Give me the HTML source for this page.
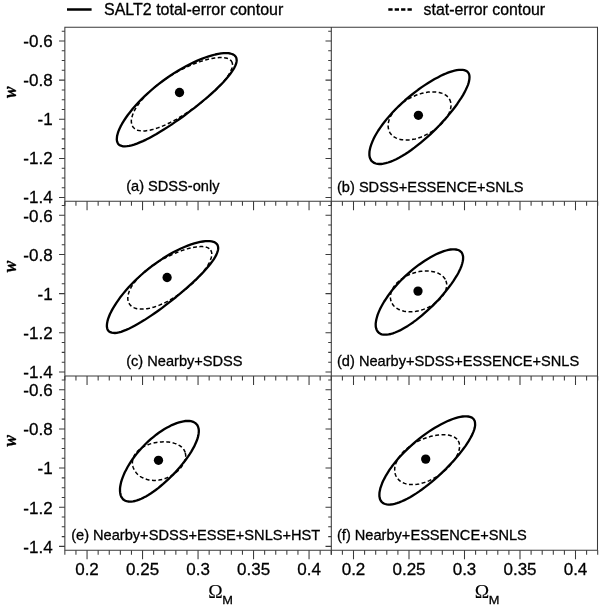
<!DOCTYPE html>
<html><head><meta charset="utf-8"><title>SALT2 contours</title>
<style>html,body{margin:0;padding:0;background:#fff}svg{display:block}text{font-family:"Liberation Sans",sans-serif;fill:#000;stroke:#000;stroke-width:0.3px}</style></head>
<body>
<svg width="600" height="607" viewBox="0 0 600 607">
<rect width="600" height="607" fill="#fff"/>
<path d="M64.85 27.25H597.5V550.2H64.85Z M331.3 27.25V554.7 M64.85 201.3H597.5 M64.85 375.95H597.5" fill="none" stroke="#3a3a3a" stroke-width="1.05"/>
<path d="M64.85 201.3v4.5 M64.85 375.95v4.5 M64.85 550.2v4.5 M75.95 201.3v4.5 M75.95 375.95v4.5 M75.95 550.2v4.5 M87.05 201.3v9 M87.05 375.95v9 M87.05 550.2v9 M98.15 201.3v4.5 M98.15 375.95v4.5 M98.15 550.2v4.5 M109.25 201.3v4.5 M109.25 375.95v4.5 M109.25 550.2v4.5 M120.35 201.3v4.5 M120.35 375.95v4.5 M120.35 550.2v4.5 M131.45 201.3v4.5 M131.45 375.95v4.5 M131.45 550.2v4.5 M142.55 201.3v9 M142.55 375.95v9 M142.55 550.2v9 M153.65 201.3v4.5 M153.65 375.95v4.5 M153.65 550.2v4.5 M164.75 201.3v4.5 M164.75 375.95v4.5 M164.75 550.2v4.5 M175.85 201.3v4.5 M175.85 375.95v4.5 M175.85 550.2v4.5 M186.95 201.3v4.5 M186.95 375.95v4.5 M186.95 550.2v4.5 M198.05 201.3v9 M198.05 375.95v9 M198.05 550.2v9 M209.15 201.3v4.5 M209.15 375.95v4.5 M209.15 550.2v4.5 M220.25 201.3v4.5 M220.25 375.95v4.5 M220.25 550.2v4.5 M231.35 201.3v4.5 M231.35 375.95v4.5 M231.35 550.2v4.5 M242.45 201.3v4.5 M242.45 375.95v4.5 M242.45 550.2v4.5 M253.55 201.3v9 M253.55 375.95v9 M253.55 550.2v9 M264.65 201.3v4.5 M264.65 375.95v4.5 M264.65 550.2v4.5 M275.75 201.3v4.5 M275.75 375.95v4.5 M275.75 550.2v4.5 M286.85 201.3v4.5 M286.85 375.95v4.5 M286.85 550.2v4.5 M297.95 201.3v4.5 M297.95 375.95v4.5 M297.95 550.2v4.5 M309.05 201.3v9 M309.05 375.95v9 M309.05 550.2v9 M320.15 201.3v4.5 M320.15 375.95v4.5 M320.15 550.2v4.5 M331.25 201.3v4.5 M331.25 375.95v4.5 M331.25 550.2v4.5 M331.30 201.3v4.5 M331.30 375.95v4.5 M331.30 550.2v4.5 M342.40 201.3v4.5 M342.40 375.95v4.5 M342.40 550.2v4.5 M353.50 201.3v9 M353.50 375.95v9 M353.50 550.2v9 M364.60 201.3v4.5 M364.60 375.95v4.5 M364.60 550.2v4.5 M375.70 201.3v4.5 M375.70 375.95v4.5 M375.70 550.2v4.5 M386.80 201.3v4.5 M386.80 375.95v4.5 M386.80 550.2v4.5 M397.90 201.3v4.5 M397.90 375.95v4.5 M397.90 550.2v4.5 M409.00 201.3v9 M409.00 375.95v9 M409.00 550.2v9 M420.10 201.3v4.5 M420.10 375.95v4.5 M420.10 550.2v4.5 M431.20 201.3v4.5 M431.20 375.95v4.5 M431.20 550.2v4.5 M442.30 201.3v4.5 M442.30 375.95v4.5 M442.30 550.2v4.5 M453.40 201.3v4.5 M453.40 375.95v4.5 M453.40 550.2v4.5 M464.50 201.3v9 M464.50 375.95v9 M464.50 550.2v9 M475.60 201.3v4.5 M475.60 375.95v4.5 M475.60 550.2v4.5 M486.70 201.3v4.5 M486.70 375.95v4.5 M486.70 550.2v4.5 M497.80 201.3v4.5 M497.80 375.95v4.5 M497.80 550.2v4.5 M508.90 201.3v4.5 M508.90 375.95v4.5 M508.90 550.2v4.5 M520.00 201.3v9 M520.00 375.95v9 M520.00 550.2v9 M531.10 201.3v4.5 M531.10 375.95v4.5 M531.10 550.2v4.5 M542.20 201.3v4.5 M542.20 375.95v4.5 M542.20 550.2v4.5 M553.30 201.3v4.5 M553.30 375.95v4.5 M553.30 550.2v4.5 M564.40 201.3v4.5 M564.40 375.95v4.5 M564.40 550.2v4.5 M575.50 201.3v9 M575.50 375.95v9 M575.50 550.2v9 M586.60 201.3v4.5 M586.60 375.95v4.5 M586.60 550.2v4.5 M597.70 201.3v4.5 M597.70 375.95v4.5 M597.70 550.2v4.5 M64.85 31.16h-3.1 M331.3 31.16h-3.1 M64.85 40.95h-5.8 M331.3 40.95h-5.8 M64.85 50.74h-3.1 M331.3 50.74h-3.1 M64.85 60.53h-3.1 M331.3 60.53h-3.1 M64.85 70.32h-3.1 M331.3 70.32h-3.1 M64.85 80.11h-5.8 M331.3 80.11h-5.8 M64.85 89.90h-3.1 M331.3 89.90h-3.1 M64.85 99.69h-3.1 M331.3 99.69h-3.1 M64.85 109.48h-3.1 M331.3 109.48h-3.1 M64.85 119.27h-5.8 M331.3 119.27h-5.8 M64.85 129.06h-3.1 M331.3 129.06h-3.1 M64.85 138.85h-3.1 M331.3 138.85h-3.1 M64.85 148.64h-3.1 M331.3 148.64h-3.1 M64.85 158.43h-5.8 M331.3 158.43h-5.8 M64.85 168.22h-3.1 M331.3 168.22h-3.1 M64.85 178.01h-3.1 M331.3 178.01h-3.1 M64.85 187.80h-3.1 M331.3 187.80h-3.1 M64.85 197.59h-5.8 M331.3 197.59h-5.8 M64.85 205.51h-3.1 M331.3 205.51h-3.1 M64.85 215.30h-5.8 M331.3 215.30h-5.8 M64.85 225.09h-3.1 M331.3 225.09h-3.1 M64.85 234.88h-3.1 M331.3 234.88h-3.1 M64.85 244.67h-3.1 M331.3 244.67h-3.1 M64.85 254.46h-5.8 M331.3 254.46h-5.8 M64.85 264.25h-3.1 M331.3 264.25h-3.1 M64.85 274.04h-3.1 M331.3 274.04h-3.1 M64.85 283.83h-3.1 M331.3 283.83h-3.1 M64.85 293.62h-5.8 M331.3 293.62h-5.8 M64.85 303.41h-3.1 M331.3 303.41h-3.1 M64.85 313.20h-3.1 M331.3 313.20h-3.1 M64.85 322.99h-3.1 M331.3 322.99h-3.1 M64.85 332.78h-5.8 M331.3 332.78h-5.8 M64.85 342.57h-3.1 M331.3 342.57h-3.1 M64.85 352.36h-3.1 M331.3 352.36h-3.1 M64.85 362.15h-3.1 M331.3 362.15h-3.1 M64.85 371.94h-5.8 M331.3 371.94h-5.8 M64.85 379.96h-3.1 M331.3 379.96h-3.1 M64.85 389.75h-5.8 M331.3 389.75h-5.8 M64.85 399.54h-3.1 M331.3 399.54h-3.1 M64.85 409.33h-3.1 M331.3 409.33h-3.1 M64.85 419.12h-3.1 M331.3 419.12h-3.1 M64.85 428.91h-5.8 M331.3 428.91h-5.8 M64.85 438.70h-3.1 M331.3 438.70h-3.1 M64.85 448.49h-3.1 M331.3 448.49h-3.1 M64.85 458.28h-3.1 M331.3 458.28h-3.1 M64.85 468.07h-5.8 M331.3 468.07h-5.8 M64.85 477.86h-3.1 M331.3 477.86h-3.1 M64.85 487.65h-3.1 M331.3 487.65h-3.1 M64.85 497.44h-3.1 M331.3 497.44h-3.1 M64.85 507.23h-5.8 M331.3 507.23h-5.8 M64.85 517.02h-3.1 M331.3 517.02h-3.1 M64.85 526.81h-3.1 M331.3 526.81h-3.1 M64.85 536.60h-3.1 M331.3 536.60h-3.1 M64.85 546.39h-5.8 M331.3 546.39h-5.8" fill="none" stroke="#3a3a3a" stroke-width="1.05"/>
<text x="52.6" y="46.7" font-size="17" text-anchor="end">-0.6</text>
<text x="52.6" y="85.9" font-size="17" text-anchor="end">-0.8</text>
<text x="52.6" y="125.0" font-size="17" text-anchor="end">-1</text>
<text x="52.6" y="164.2" font-size="17" text-anchor="end">-1.2</text>
<text x="52.6" y="203.4" font-size="17" text-anchor="end">-1.4</text>
<text x="52.6" y="221.6" font-size="17" text-anchor="end">-0.6</text>
<text x="52.6" y="260.8" font-size="17" text-anchor="end">-0.8</text>
<text x="52.6" y="299.9" font-size="17" text-anchor="end">-1</text>
<text x="52.6" y="339.1" font-size="17" text-anchor="end">-1.2</text>
<text x="52.6" y="378.3" font-size="17" text-anchor="end">-1.4</text>
<text x="52.6" y="396.0" font-size="17" text-anchor="end">-0.6</text>
<text x="52.6" y="435.2" font-size="17" text-anchor="end">-0.8</text>
<text x="52.6" y="474.3" font-size="17" text-anchor="end">-1</text>
<text x="52.6" y="513.5" font-size="17" text-anchor="end">-1.2</text>
<text x="52.6" y="552.7" font-size="17" text-anchor="end">-1.4</text>
<text x="87.0" y="575.3" font-size="17" text-anchor="middle">0.2</text>
<text x="142.6" y="575.3" font-size="17" text-anchor="middle">0.25</text>
<text x="198.1" y="575.3" font-size="17" text-anchor="middle">0.3</text>
<text x="253.6" y="575.3" font-size="17" text-anchor="middle">0.35</text>
<text x="309.1" y="575.3" font-size="17" text-anchor="middle">0.4</text>
<text x="353.5" y="575.3" font-size="17" text-anchor="middle">0.2</text>
<text x="409.0" y="575.3" font-size="17" text-anchor="middle">0.25</text>
<text x="464.5" y="575.3" font-size="17" text-anchor="middle">0.3</text>
<text x="520.0" y="575.3" font-size="17" text-anchor="middle">0.35</text>
<text x="575.5" y="575.3" font-size="17" text-anchor="middle">0.4</text>
<text transform="translate(208.3 598.3) scale(1.075 1)" font-size="18.1" style="font-family:'Liberation Serif',serif;stroke-width:0.1px">Ω</text>
<text transform="translate(222.2 604.3) scale(1.085 1)" font-size="11.8">M</text>
<text transform="translate(474.8 598.3) scale(1.075 1)" font-size="18.1" style="font-family:'Liberation Serif',serif;stroke-width:0.1px">Ω</text>
<text transform="translate(488.7 604.3) scale(1.085 1)" font-size="11.8">M</text>
<text transform="translate(16.1 92.25) rotate(-90) scale(0.88 1)" font-size="19.5" font-style="italic" font-weight="bold" text-anchor="middle" style="font-family:'Liberation Serif',serif;stroke-width:0.35px">w</text>
<text transform="translate(16.1 266.55) rotate(-90) scale(0.88 1)" font-size="19.5" font-style="italic" font-weight="bold" text-anchor="middle" style="font-family:'Liberation Serif',serif;stroke-width:0.35px">w</text>
<text transform="translate(16.1 440.85) rotate(-90) scale(0.88 1)" font-size="19.5" font-style="italic" font-weight="bold" text-anchor="middle" style="font-family:'Liberation Serif',serif;stroke-width:0.35px">w</text>
<path d="M67 9.5H91.6" stroke="#000" stroke-width="2.5" fill="none"/>
<path d="M388.3 9.5H412.2" stroke="#000" stroke-width="2.4" stroke-dasharray="4.3 2.1" fill="none"/>
<text x="104" y="15.2" font-size="16">SALT2 total-error contour</text>
<text x="423.6" y="15.2" font-size="15.85">stat-error contour</text>
<text x="126.2" y="191.2" font-size="14.6">(a) SDSS-only</text>
<text x="337.0" y="191.5" font-size="14.6">(b) SDSS+ESSENCE+SNLS</text>
<text x="126.2" y="365.5" font-size="14.6">(c) Nearby+SDSS</text>
<text x="337.0" y="365.7" font-size="14.6">(d) Nearby+SDSS+ESSENCE+SNLS</text>
<text x="71.2" y="540.4" font-size="14.6">(e) Nearby+SDSS+ESSE+SNLS+HST</text>
<text x="337.0" y="540.4" font-size="14.6">(f) Nearby+ESSENCE+SNLS</text>
<path d="M231.5 61.2L232.0 62.3L232.4 63.5L232.5 64.8L232.4 66.2L232.1 67.7L231.5 69.4L230.7 71.1L229.8 73.0L228.6 74.9L227.2 76.9L225.7 79.0L223.9 81.2L222.0 83.4L219.9 85.7L217.7 88.0L215.3 90.4L212.8 92.7L210.1 95.1L207.4 97.5L204.5 99.9L201.5 102.3L198.5 104.6L195.4 106.9L192.2 109.2L189.1 111.4L185.8 113.5L182.6 115.6L179.4 117.5L176.2 119.4L173.0 121.1L169.8 122.8L166.7 124.3L163.7 125.6L160.7 126.9L157.8 127.9L155.0 128.9L152.4 129.6L149.8 130.2L147.4 130.6L145.1 130.9L142.9 131.0L141.0 130.9L139.1 130.6L137.5 130.2L136.0 129.5L134.8 128.8L133.7 127.8L132.8 126.7L132.1 125.5L131.7 124.1L131.4 122.5L131.3 120.9L131.5 119.1L131.9 117.2L132.5 115.2L133.3 113.1L134.3 110.9L135.5 108.7L136.9 106.4L138.6 104.0L140.4 101.6L142.4 99.2L144.5 96.8L146.9 94.3L149.3 91.9L152.0 89.5L154.7 87.1L157.6 84.8L160.7 82.5L163.8 80.2L166.9 78.1L170.2 76.0L173.5 74.0L176.9 72.0L180.2 70.2L183.6 68.5L187.0 66.9L190.4 65.4L193.7 64.0L197.0 62.7L200.2 61.6L203.3 60.6L206.3 59.8L209.2 59.0L212.0 58.5L214.7 58.0L217.2 57.7L219.5 57.5L221.7 57.5L223.7 57.6L225.5 57.9L227.1 58.3L228.5 58.8L229.7 59.5L230.7 60.3Z" fill="none" stroke="#000" stroke-width="1.5" stroke-dasharray="3.9 2.5" stroke-linejoin="round"/>
<path d="M235.5 56.4L236.2 57.5L236.5 58.8L236.7 60.3L236.5 61.9L236.1 63.7L235.4 65.5L234.4 67.6L233.2 69.7L231.7 71.9L230.0 74.3L228.0 76.8L225.9 79.3L223.5 82.0L220.9 84.7L218.1 87.4L215.1 90.3L212.0 93.1L208.7 96.1L205.3 99.0L201.8 101.9L198.2 104.9L194.5 107.8L190.7 110.7L186.9 113.6L183.1 116.5L179.2 119.2L175.3 121.9L171.5 124.6L167.6 127.1L163.8 129.5L160.1 131.8L156.5 134.0L152.9 136.0L149.4 137.9L146.1 139.6L142.9 141.1L139.8 142.4L136.9 143.6L134.1 144.6L131.6 145.3L129.2 145.9L127.0 146.2L124.9 146.4L123.1 146.3L121.6 145.9L120.2 145.4L119.0 144.7L118.1 143.7L117.5 142.5L117.0 141.1L116.8 139.6L116.9 137.8L117.1 135.9L117.7 133.7L118.4 131.4L119.4 129.0L120.6 126.4L122.1 123.7L123.8 120.9L125.7 118.0L127.8 115.0L130.2 112.0L132.7 108.8L135.4 105.7L138.3 102.5L141.4 99.4L144.7 96.2L148.0 93.1L151.5 90.0L155.1 86.9L158.9 83.9L162.7 81.0L166.5 78.2L170.5 75.5L174.4 72.9L178.4 70.5L182.4 68.2L186.4 66.0L190.3 64.0L194.2 62.1L198.0 60.4L201.7 58.9L205.3 57.5L208.7 56.3L212.1 55.3L215.3 54.5L218.3 53.9L221.1 53.4L223.7 53.2L226.1 53.1L228.3 53.2L230.2 53.5L231.9 54.0L233.4 54.6L234.6 55.4Z" fill="none" stroke="#000" stroke-width="2.3" stroke-linejoin="round"/>
<circle cx="179.5" cy="92.5" r="4.65" fill="#000"/>
<path d="M449.5 99.2L450.1 100.4L450.5 101.6L450.8 102.9L450.9 104.2L451.0 105.6L450.9 107.0L450.6 108.5L450.2 110.0L449.7 111.5L449.1 113.1L448.3 114.6L447.5 116.2L446.5 117.7L445.3 119.3L444.1 120.9L442.8 122.4L441.4 123.9L439.9 125.4L438.3 126.8L436.6 128.2L434.9 129.5L433.0 130.8L431.2 132.0L429.3 133.2L427.3 134.2L425.3 135.2L423.3 136.2L421.3 137.0L419.2 137.7L417.2 138.4L415.2 138.9L413.1 139.3L411.2 139.7L409.2 139.9L407.3 140.0L405.5 140.0L403.7 139.9L401.9 139.8L400.3 139.4L398.7 139.0L397.2 138.5L395.8 137.9L394.5 137.2L393.3 136.4L392.3 135.5L391.3 134.5L390.5 133.5L389.7 132.3L389.2 131.1L388.7 129.8L388.4 128.5L388.2 127.1L388.1 125.6L388.2 124.2L388.4 122.6L388.8 121.1L389.2 119.5L389.9 117.9L390.6 116.3L391.5 114.8L392.5 113.2L393.6 111.6L394.8 110.1L396.1 108.5L397.5 107.1L399.1 105.6L400.7 104.2L402.4 102.9L404.2 101.6L406.0 100.3L407.9 99.2L409.9 98.1L411.9 97.1L413.9 96.2L415.9 95.3L418.0 94.6L420.1 93.9L422.1 93.3L424.2 92.8L426.2 92.4L428.2 92.1L430.2 91.9L432.1 91.9L434.0 91.9L435.8 92.0L437.5 92.2L439.2 92.5L440.8 92.9L442.2 93.4L443.6 93.9L444.9 94.6L446.1 95.4L447.1 96.2L448.0 97.2L448.8 98.2Z" fill="none" stroke="#000" stroke-width="1.5" stroke-dasharray="3.9 2.5" stroke-linejoin="round"/>
<path d="M467.8 72.1L468.5 73.1L469.1 74.3L469.4 75.7L469.5 77.2L469.4 79.0L469.1 80.9L468.6 82.9L467.9 85.1L466.9 87.4L465.8 89.8L464.5 92.4L463.0 95.1L461.3 97.9L459.4 100.7L457.4 103.7L455.2 106.7L452.9 109.7L450.4 112.8L447.9 115.9L445.2 119.0L442.3 122.1L439.5 125.2L436.5 128.3L433.4 131.3L430.3 134.3L427.2 137.2L424.0 139.9L420.8 142.6L417.6 145.2L414.4 147.7L411.3 150.0L408.1 152.2L405.0 154.2L402.0 156.0L399.0 157.7L396.2 159.2L393.4 160.5L390.7 161.6L388.1 162.5L385.7 163.2L383.4 163.7L381.2 164.0L379.2 164.0L377.4 163.9L375.7 163.5L374.2 162.9L372.9 162.1L371.8 161.2L370.9 160.0L370.2 158.6L369.7 157.1L369.4 155.3L369.4 153.4L369.5 151.4L369.9 149.2L370.5 146.8L371.3 144.4L372.3 141.8L373.5 139.1L374.9 136.3L376.5 133.5L378.3 130.5L380.3 127.6L382.5 124.5L384.8 121.5L387.3 118.4L389.9 115.4L392.7 112.3L395.6 109.3L398.6 106.3L401.7 103.4L404.8 100.5L408.1 97.7L411.4 95.0L414.7 92.4L418.1 89.8L421.4 87.4L424.8 85.1L428.1 83.0L431.4 81.0L434.6 79.1L437.8 77.4L440.8 75.8L443.8 74.4L446.7 73.2L449.4 72.2L452.0 71.3L454.5 70.7L456.8 70.2L458.9 69.9L460.9 69.8L462.7 69.8L464.2 70.1L465.6 70.6L466.8 71.2Z" fill="none" stroke="#000" stroke-width="2.3" stroke-linejoin="round"/>
<circle cx="418.4" cy="115.3" r="4.65" fill="#000"/>
<path d="M210.7 250.2L211.2 251.2L211.6 252.3L211.8 253.5L211.8 254.8L211.6 256.2L211.2 257.7L210.7 259.3L210.0 261.0L209.2 262.8L208.2 264.6L207.0 266.5L205.7 268.5L204.2 270.5L202.6 272.6L200.9 274.6L199.0 276.7L197.1 278.8L195.0 281.0L192.8 283.1L190.5 285.1L188.1 287.2L185.7 289.2L183.2 291.2L180.6 293.1L178.0 294.9L175.4 296.7L172.7 298.3L170.1 299.9L167.4 301.4L164.7 302.8L162.0 304.0L159.4 305.1L156.8 306.1L154.3 307.0L151.8 307.7L149.4 308.3L147.1 308.7L144.8 309.0L142.7 309.1L140.7 309.1L138.8 309.0L137.0 308.7L135.3 308.2L133.8 307.6L132.5 306.9L131.3 306.1L130.3 305.1L129.4 304.0L128.8 302.8L128.3 301.5L127.9 300.0L127.8 298.5L127.8 296.9L128.1 295.2L128.5 293.5L129.1 291.7L129.9 289.8L130.8 287.9L132.0 285.9L133.3 284.0L134.8 282.0L136.4 280.0L138.2 278.0L140.1 276.0L142.2 274.0L144.3 272.0L146.6 270.1L149.1 268.2L151.6 266.4L154.1 264.6L156.8 262.8L159.5 261.1L162.3 259.5L165.0 258.0L167.8 256.5L170.7 255.2L173.5 253.9L176.3 252.7L179.0 251.6L181.7 250.6L184.4 249.7L187.0 248.9L189.5 248.2L191.9 247.7L194.2 247.2L196.4 246.9L198.5 246.7L200.5 246.6L202.3 246.6L204.0 246.7L205.5 247.0L206.9 247.4L208.1 247.9L209.1 248.6L210.0 249.3Z" fill="none" stroke="#000" stroke-width="1.5" stroke-dasharray="3.9 2.5" stroke-linejoin="round"/>
<path d="M216.9 244.1L217.6 245.2L218.0 246.5L218.2 247.9L218.1 249.4L217.7 251.1L217.1 252.9L216.3 254.9L215.2 256.9L213.9 259.1L212.3 261.4L210.5 263.8L208.5 266.3L206.3 268.8L203.9 271.5L201.4 274.2L198.6 276.9L195.8 279.7L192.7 282.6L189.6 285.4L186.3 288.3L183.0 291.2L179.5 294.1L176.1 297.0L172.5 299.8L168.9 302.6L165.3 305.4L161.8 308.1L158.2 310.7L154.6 313.2L151.1 315.6L147.7 317.9L144.3 320.1L141.0 322.1L137.7 324.0L134.6 325.7L131.7 327.3L128.8 328.7L126.1 329.9L123.5 330.9L121.1 331.8L118.8 332.4L116.8 332.8L114.9 333.0L113.2 332.9L111.7 332.7L110.3 332.2L109.2 331.6L108.3 330.7L107.6 329.6L107.2 328.3L106.9 326.8L106.9 325.1L107.1 323.2L107.5 321.1L108.1 318.9L109.0 316.5L110.0 314.0L111.3 311.4L112.8 308.6L114.5 305.8L116.4 302.8L118.5 299.8L120.7 296.7L123.2 293.6L125.8 290.5L128.6 287.3L131.5 284.2L134.6 281.1L137.8 278.0L141.1 275.0L144.5 272.0L148.1 269.1L151.6 266.3L155.3 263.7L158.9 261.1L162.7 258.6L166.4 256.3L170.1 254.1L173.7 252.1L177.4 250.2L180.9 248.5L184.4 247.0L187.8 245.6L191.1 244.4L194.3 243.4L197.3 242.6L200.2 241.9L202.9 241.5L205.4 241.2L207.7 241.1L209.8 241.2L211.7 241.4L213.4 241.8L214.8 242.4L216.0 243.2Z" fill="none" stroke="#000" stroke-width="2.3" stroke-linejoin="round"/>
<circle cx="167.1" cy="277.5" r="4.65" fill="#000"/>
<path d="M445.9 280.8L446.3 282.0L446.6 283.2L446.7 284.4L446.7 285.6L446.6 286.9L446.3 288.2L446.0 289.5L445.5 290.8L444.9 292.1L444.3 293.4L443.5 294.7L442.5 296.0L441.5 297.3L440.4 298.6L439.2 299.8L437.9 301.0L436.6 302.1L435.1 303.2L433.6 304.3L432.0 305.3L430.4 306.2L428.7 307.1L427.0 307.9L425.2 308.7L423.4 309.4L421.6 310.0L419.8 310.5L418.0 310.9L416.1 311.3L414.3 311.5L412.5 311.7L410.7 311.8L409.0 311.8L407.3 311.7L405.6 311.5L404.0 311.2L402.5 310.8L401.0 310.4L399.6 309.8L398.3 309.2L397.1 308.5L395.9 307.7L394.9 306.9L393.9 306.0L393.1 305.0L392.4 303.9L391.7 302.8L391.2 301.7L390.8 300.5L390.6 299.2L390.4 298.0L390.4 296.7L390.5 295.3L390.7 294.0L391.0 292.7L391.5 291.3L392.0 289.9L392.7 288.6L393.5 287.3L394.4 286.0L395.4 284.7L396.5 283.4L397.7 282.2L399.0 281.0L400.4 279.9L401.8 278.8L403.4 277.8L405.0 276.8L406.6 275.9L408.3 275.1L410.1 274.3L411.9 273.6L413.7 273.0L415.5 272.5L417.4 272.0L419.2 271.6L421.1 271.3L422.9 271.1L424.7 271.0L426.5 271.0L428.3 271.0L430.0 271.1L431.7 271.4L433.3 271.7L434.8 272.0L436.3 272.5L437.7 273.0L439.0 273.6L440.2 274.3L441.4 275.1L442.4 275.9L443.3 276.8L444.1 277.7L444.9 278.7L445.5 279.7Z" fill="none" stroke="#000" stroke-width="1.5" stroke-dasharray="3.9 2.5" stroke-linejoin="round"/>
<path d="M461.0 251.8L461.8 252.8L462.4 254.0L462.8 255.3L463.1 256.8L463.1 258.4L463.0 260.1L462.6 262.0L462.1 264.0L461.4 266.2L460.5 268.4L459.4 270.7L458.2 273.2L456.8 275.7L455.2 278.2L453.5 280.9L451.6 283.6L449.6 286.3L447.5 289.1L445.3 291.8L443.0 294.6L440.5 297.4L438.0 300.2L435.4 302.9L432.8 305.6L430.0 308.2L427.3 310.7L424.5 313.2L421.7 315.6L418.9 317.9L416.1 320.1L413.3 322.2L410.5 324.1L407.8 325.9L405.1 327.5L402.5 329.0L400.0 330.4L397.5 331.5L395.1 332.5L392.9 333.3L390.7 334.0L388.6 334.4L386.7 334.7L384.9 334.7L383.3 334.6L381.8 334.3L380.4 333.8L379.2 333.1L378.2 332.2L377.3 331.1L376.7 329.9L376.2 328.5L375.8 326.9L375.7 325.2L375.7 323.3L376.0 321.3L376.4 319.2L377.0 317.0L377.7 314.6L378.7 312.1L379.8 309.6L381.1 307.0L382.6 304.3L384.2 301.5L386.0 298.8L387.9 296.0L389.9 293.2L392.1 290.3L394.5 287.5L396.9 284.8L399.4 282.0L402.0 279.3L404.7 276.7L407.5 274.1L410.3 271.6L413.2 269.2L416.1 266.9L419.0 264.7L421.9 262.7L424.8 260.7L427.7 258.9L430.5 257.2L433.3 255.7L436.1 254.3L438.7 253.1L441.3 252.1L443.8 251.2L446.1 250.5L448.4 249.9L450.5 249.5L452.5 249.3L454.3 249.3L456.0 249.5L457.5 249.8L458.8 250.3L460.0 251.0Z" fill="none" stroke="#000" stroke-width="2.3" stroke-linejoin="round"/>
<circle cx="418" cy="291.1" r="4.65" fill="#000"/>
<path d="M185.3 452.9L185.5 454.0L185.7 455.2L185.7 456.3L185.6 457.6L185.3 458.8L185.0 460.0L184.6 461.3L184.0 462.5L183.4 463.8L182.7 465.1L181.8 466.3L180.9 467.6L179.9 468.8L178.8 469.9L177.6 471.1L176.3 472.2L175.0 473.3L173.6 474.3L172.1 475.2L170.6 476.1L169.0 476.9L167.4 477.6L165.7 478.3L164.0 478.9L162.3 479.4L160.6 479.7L158.9 480.1L157.2 480.3L155.4 480.4L153.7 480.4L152.0 480.3L150.4 480.1L148.8 479.9L147.2 479.5L145.6 479.0L144.2 478.5L142.7 477.8L141.4 477.1L140.1 476.3L138.9 475.4L137.8 474.5L136.8 473.5L135.9 472.4L135.1 471.3L134.4 470.1L133.8 468.9L133.3 467.7L132.9 466.5L132.6 465.2L132.4 463.9L132.4 462.6L132.5 461.3L132.7 460.0L133.0 458.7L133.4 457.5L134.0 456.2L134.6 455.0L135.4 453.8L136.3 452.7L137.2 451.6L138.3 450.5L139.4 449.5L140.7 448.6L142.0 447.7L143.4 446.8L144.9 446.1L146.4 445.4L148.0 444.7L149.6 444.1L151.3 443.6L153.0 443.1L154.7 442.7L156.5 442.4L158.2 442.2L160.0 442.0L161.7 441.9L163.5 441.8L165.2 441.8L166.9 441.9L168.5 442.1L170.1 442.3L171.7 442.6L173.2 442.9L174.6 443.4L176.0 443.8L177.3 444.4L178.5 445.0L179.7 445.7L180.7 446.4L181.7 447.2L182.6 448.0L183.3 448.9L184.0 449.8L184.5 450.8L185.0 451.8Z" fill="none" stroke="#000" stroke-width="1.5" stroke-dasharray="3.9 2.5" stroke-linejoin="round"/>
<path d="M196.1 423.7L197.0 424.7L197.7 425.9L198.2 427.2L198.6 428.6L198.8 430.2L198.8 431.9L198.6 433.7L198.3 435.6L197.8 437.7L197.1 439.8L196.2 442.0L195.2 444.3L194.1 446.7L192.7 449.1L191.3 451.6L189.7 454.1L188.0 456.6L186.1 459.2L184.2 461.8L182.1 464.4L180.0 467.0L177.8 469.5L175.5 472.1L173.1 474.6L170.7 477.0L168.2 479.4L165.7 481.7L163.2 483.9L160.7 486.0L158.2 488.1L155.7 490.0L153.2 491.8L150.7 493.5L148.3 495.0L145.9 496.4L143.6 497.6L141.3 498.7L139.1 499.6L137.0 500.4L135.0 501.0L133.1 501.4L131.3 501.6L129.6 501.6L128.0 501.5L126.6 501.2L125.3 500.7L124.1 500.0L123.0 499.2L122.2 498.1L121.4 497.0L120.8 495.6L120.4 494.1L120.1 492.4L120.0 490.7L120.0 488.7L120.2 486.7L120.6 484.5L121.1 482.2L121.8 479.9L122.7 477.4L123.7 474.9L124.8 472.3L126.2 469.7L127.6 467.0L129.2 464.4L130.9 461.7L132.7 459.0L134.7 456.3L136.8 453.6L139.0 451.0L141.2 448.5L143.6 446.0L146.0 443.5L148.5 441.2L151.0 438.9L153.6 436.8L156.2 434.7L158.8 432.8L161.5 431.0L164.1 429.3L166.7 427.8L169.3 426.4L171.8 425.1L174.3 424.1L176.7 423.1L179.1 422.4L181.3 421.8L183.5 421.3L185.5 421.0L187.5 420.9L189.3 421.0L190.9 421.2L192.5 421.6L193.8 422.1L195.0 422.9Z" fill="none" stroke="#000" stroke-width="2.3" stroke-linejoin="round"/>
<circle cx="158.5" cy="460.3" r="4.65" fill="#000"/>
<path d="M458.2 440.9L458.8 442.0L459.2 443.1L459.4 444.3L459.6 445.6L459.6 446.9L459.4 448.3L459.2 449.8L458.8 451.3L458.2 452.8L457.6 454.4L456.8 455.9L455.9 457.6L454.9 459.2L453.7 460.8L452.5 462.5L451.1 464.1L449.7 465.7L448.2 467.3L446.6 468.9L444.9 470.5L443.1 472.0L441.3 473.4L439.4 474.8L437.5 476.1L435.5 477.3L433.5 478.5L431.4 479.6L429.4 480.6L427.3 481.5L425.2 482.3L423.1 482.9L421.1 483.5L419.0 484.0L417.0 484.3L415.1 484.5L413.2 484.6L411.3 484.6L409.5 484.5L407.8 484.3L406.1 483.9L404.6 483.4L403.1 482.8L401.7 482.1L400.5 481.3L399.3 480.4L398.3 479.4L397.4 478.3L396.6 477.1L395.9 475.8L395.4 474.5L395.0 473.1L394.8 471.6L394.7 470.1L394.7 468.6L394.9 467.0L395.3 465.4L395.7 463.8L396.4 462.1L397.1 460.5L398.0 458.8L399.0 457.2L400.2 455.6L401.4 454.0L402.8 452.4L404.3 450.9L405.9 449.4L407.6 448.0L409.4 446.6L411.3 445.3L413.2 444.0L415.2 442.8L417.2 441.7L419.3 440.6L421.5 439.7L423.6 438.8L425.8 438.0L428.0 437.2L430.1 436.6L432.3 436.1L434.4 435.6L436.5 435.2L438.5 435.0L440.5 434.8L442.5 434.7L444.3 434.7L446.1 434.8L447.8 435.0L449.4 435.3L450.9 435.7L452.3 436.2L453.6 436.8L454.8 437.4L455.8 438.2L456.8 439.0L457.6 439.9Z" fill="none" stroke="#000" stroke-width="1.5" stroke-dasharray="3.9 2.5" stroke-linejoin="round"/>
<path d="M473.4 418.9L474.1 419.9L474.7 421.1L475.0 422.5L475.1 424.0L475.1 425.6L474.8 427.4L474.3 429.4L473.6 431.4L472.7 433.6L471.6 435.9L470.3 438.3L468.8 440.9L467.2 443.4L465.4 446.1L463.4 448.8L461.3 451.6L459.0 454.4L456.6 457.3L454.1 460.2L451.5 463.0L448.8 465.9L446.0 468.8L443.1 471.6L440.2 474.4L437.2 477.1L434.1 479.8L431.1 482.3L428.0 484.8L425.0 487.2L421.9 489.5L418.9 491.6L415.9 493.6L412.9 495.5L410.1 497.2L407.2 498.8L404.5 500.1L401.9 501.3L399.3 502.4L396.9 503.2L394.6 503.8L392.4 504.3L390.4 504.5L388.5 504.6L386.8 504.4L385.2 504.0L383.8 503.5L382.6 502.7L381.6 501.8L380.8 500.7L380.1 499.4L379.7 497.9L379.4 496.2L379.4 494.4L379.5 492.5L379.9 490.4L380.4 488.1L381.2 485.8L382.1 483.3L383.2 480.7L384.6 478.1L386.1 475.3L387.8 472.6L389.6 469.7L391.7 466.8L393.9 463.9L396.2 461.0L398.7 458.1L401.3 455.2L404.0 452.4L406.9 449.6L409.8 446.8L412.8 444.1L415.9 441.4L419.0 438.9L422.2 436.4L425.3 434.1L428.5 431.9L431.7 429.8L434.9 427.8L438.1 425.9L441.2 424.2L444.2 422.7L447.2 421.3L450.0 420.1L452.8 419.0L455.5 418.1L458.0 417.4L460.4 416.9L462.6 416.5L464.7 416.3L466.6 416.3L468.3 416.5L469.9 416.8L471.3 417.3L472.4 418.0Z" fill="none" stroke="#000" stroke-width="2.3" stroke-linejoin="round"/>
<circle cx="425.7" cy="459.1" r="4.65" fill="#000"/>
</svg>
</body></html>
